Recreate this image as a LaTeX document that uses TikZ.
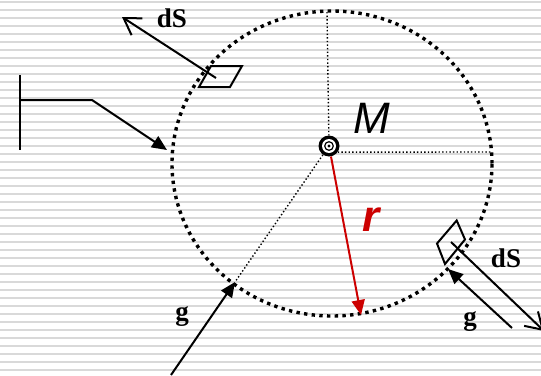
\documentclass[tikz,border=0pt]{standalone}
\usepackage{fontspec}
\setmainfont{Liberation Serif}
\newfontfamily\lsans{Liberation Sans}
\definecolor{flred}{RGB}{204,0,0}
\definecolor{flstripe}{RGB}{217,217,217}
\usetikzlibrary{arrows.meta}

\begin{document}
\begin{tikzpicture}[
  x=1pt,y=-1pt,
  every node/.style={inner sep=0pt},
  bigdots/.style={line width=3.4pt,dash pattern=on 3.4pt off 4.3pt},
  thindots/.style={line width=1.4pt,dash pattern=on 1.4pt off 2.2pt},
  vec/.style={line width=2pt,-{Triangle[length=15pt,width=13pt]}},
  normal/.style={line width=2pt,-{Straight Barb[length=16pt,width=20pt]}},
  patch/.style={line width=2pt,line join=miter},
  lbl/.style={font=\fontsize{27}{27}\selectfont\bfseries},
]
  \useasboundingbox (0,0) rectangle (541,375);

  % Background stripes
  \foreach \k in {0,...,46}
    \fill[flstripe] (0,{1+8*\k}) rectangle (541,{3+8*\k});

  % Gauss surface
  \draw[bigdots] (332,163.5) ellipse [x radius=160pt, y radius=152.5pt];

  % Point mass
  \node[circle,fill=black,minimum size=21pt] (mass) at (329,146) {};
  \fill[white] (mass) circle (7pt);
  \draw[line width=1.2pt] (mass) circle (4.3pt);
  \fill (mass) circle (1.6pt);
  \node[font=\lsans\itshape\fontsize{44}{44}\selectfont] (mlbl) at (372,118) {M};

  % Points on the surface
  \coordinate (top) at (327,12);
  \coordinate (rim) at (492,152);
  \coordinate (gtipA) at (235,282);
  \coordinate (rtip) at (361,315);
  \coordinate (gtipB) at (448,269);

  % Radii
  \draw[thindots] (top) -- (mass);
  \draw[thindots] (mass.-35) -- (rim);
  \draw[thindots] (mass) -- (gtipA);
  \draw[vec,flred] (mass) -- (rtip);
  \node[font=\lsans\bfseries\itshape\fontsize{44}{44}\selectfont,text=flred]
    (rlbl) at (371,220) {r};

  % Pointer from the left
  \coordinate (barT) at (20,75);
  \coordinate (barB) at (20,150);
  \coordinate (barM) at (20,100);
  \coordinate (bend) at (92,100);
  \coordinate (ptip) at (167,150);
  \draw[line width=2pt] (barT) -- (barB);
  \draw[vec] (barM) -- (bend) -- (ptip);

  % Upper surface element
  \draw[patch] (211,66) -- (242,66) -- (230,87) -- (199,87) -- cycle;
  \coordinate (dsA) at (216,78);
  \coordinate (nA) at (122,17);
  \draw[normal] (dsA) -- (nA);
  \node[lbl] (dslblA) at (172,18) {dS};

  % Lower surface element
  \draw[patch] (437,243.5) -- (456.7,220.5) -- (465,239.5) -- (445,264) -- cycle;
  \coordinate (dsB) at (451,242);
  \coordinate (nB) at (544,331);
  \draw[normal] (dsB) -- (nB);
  \node[lbl] (dslblB) at (506,258) {dS};

  % Field vectors
  \coordinate (gA) at (171,375);
  \draw[vec] (gA) -- (gtipA);
  \node[lbl] (glblA) at (182,317) {g};
  \coordinate (gB) at (512,328);
  \draw[vec] (gB) -- (gtipB);
  \node[lbl] (glblB) at (470,322) {g};
\end{tikzpicture}
\end{document}
